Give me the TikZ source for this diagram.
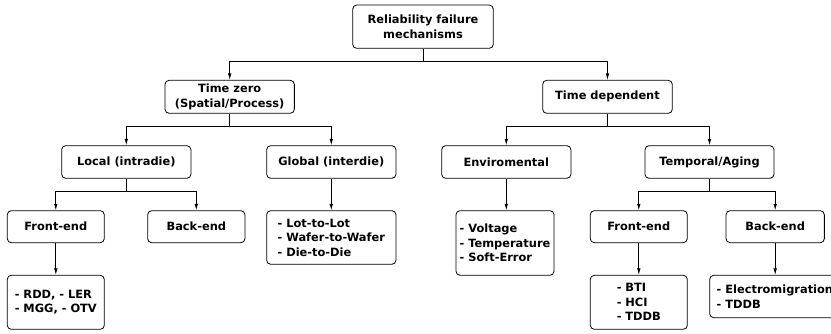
\documentclass[tikz,border=0pt]{standalone}
\usepackage{fontspec}
\setmainfont{DejaVu Sans}
\usetikzlibrary{arrows.meta}
\begin{document}
\begin{tikzpicture}[x=1pt,y=-1pt,
  box/.style={draw, rounded corners=4pt, line width=0.8pt, inner sep=0pt,
    font=\bfseries\fontsize{11.4}{14.5}\selectfont, align=center},
  lst/.style={box, align=left},
  conn/.style={line width=0.8pt, -{Latex[length=6.5pt,width=3.6pt]}}]
\useasboundingbox (0,0) rectangle (831,334);
\clip (0,0) rectangle (831,334);
\node[box, minimum width=140.6pt, minimum height=43.3pt] (root) at (423,26.7) {Reliability failure\\mechanisms};
\node[box, minimum width=129.3pt, minimum height=33pt] (tz) at (229.7,96.8) {Time zero\\(Spatial/Process)};
\node[box, minimum width=129.6pt, minimum height=33pt] (td) at (607.5,96.8) {Time dependent};
\node[box, minimum width=129.3pt, minimum height=32.6pt] (loc) at (126.3,162) {Local (intradie)};
\node[box, minimum width=129.3pt, minimum height=32.6pt] (glo) at (331.3,162) {Global (interdie)};
\node[box, minimum width=129.3pt, minimum height=32.6pt] (env) at (506.3,162) {Enviromental};
\node[box, minimum width=129pt, minimum height=32.6pt] (tmp) at (709.5,162) {Temporal/Aging};
\node[box, minimum width=97pt, minimum height=32pt] (fe1) at (55.8,226.7) {Front-end};
\node[box, minimum width=97.3pt, minimum height=32pt] (be1) at (196.3,226.7) {Back-end};
\node[lst, minimum width=129.3pt, minimum height=53.6pt] (gl) at (331.3,237.5) {- Lot-to-Lot\\- Wafer-to-Wafer\\- Die-to-Die};
\node[lst, minimum width=98pt, minimum height=64.6pt] (el) at (505,243) {- Voltage\\- Temperature\\- Soft-Error};
\node[box, minimum width=97pt, minimum height=32pt] (fe2) at (638.8,226.7) {Front-end};
\node[box, minimum width=98.3pt, minimum height=32pt] (be2) at (775.2,226.7) {Back-end};
\node[lst, minimum width=97pt, minimum height=54pt] (rdd) at (55.8,302.3) {- RDD, - LER\\- MGG, - OTV};
\node[lst, minimum width=97pt, minimum height=54pt] (bti) at (638.8,302.3) {- BTI\\- HCI\\- TDDB};
\node[lst, anchor=west, inner xsep=7pt, minimum height=42.4pt] (em) at (709.3,296.5) {- Electromigration\\- TDDB};
\draw[conn] (root.south) -- ++(0,12.4) -| (tz.north);
\draw[conn] (root.south) -- ++(0,12.4) -| (td.north);
\draw[conn] (tz.south) -- ++(0,12.7) -| (loc.north);
\draw[conn] (tz.south) -- ++(0,12.7) -| (glo.north);
\draw[conn] (td.south) -- ++(0,12.7) -| (env.north);
\draw[conn] (td.south) -- ++(0,12.7) -| (tmp.north);
\draw[conn] (loc.south) -- ++(0,12.4) -| (fe1.north);
\draw[conn] (loc.south) -- ++(0,12.4) -| (be1.north);
\draw[conn] (tmp.south) -- ++(0,12.4) -| (fe2.north);
\draw[conn] (tmp.south) -- ++(0,12.4) -| (be2.north);
\draw[conn] (glo.south) -- (gl.north);
\draw[conn] (env.south) -- (env.south |- el.north);
\draw[conn] (fe1.south) -- (rdd.north);
\draw[conn] (fe2.south) -- (bti.north);
\draw[conn] (be2.south) -- (be2.south |- em.north);
\end{tikzpicture}
\end{document}
